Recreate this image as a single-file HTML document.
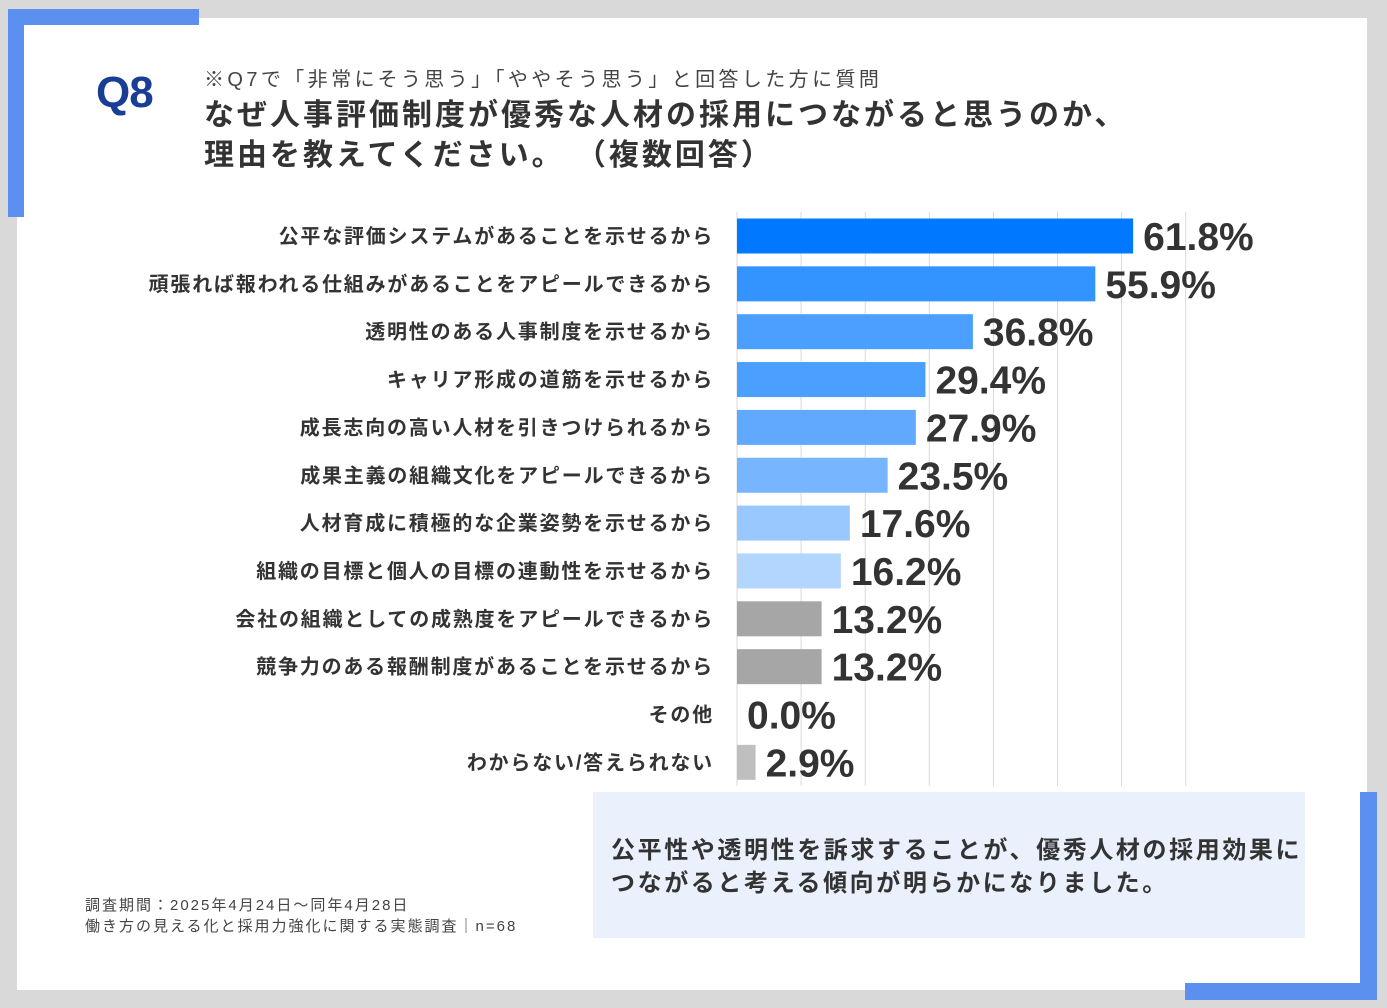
<!DOCTYPE html>
<html><head><meta charset="utf-8"><style>
body{margin:0;width:1387px;height:1008px;background:#d9d9d9;position:relative;overflow:hidden;font-family:"Liberation Sans","Noto Sans CJK JP",sans-serif;color:#333}
.abs{position:absolute}
</style></head><body>
<div class="abs" style="left:17px;top:18px;width:1350px;height:972px;background:#fff"></div>
<div class="abs" style="left:8px;top:9px;width:191px;height:16px;background:#5b8ff0"></div>
<div class="abs" style="left:8px;top:9px;width:16px;height:208px;background:#5b8ff0"></div>
<div class="abs" style="left:1360px;top:792px;width:17px;height:208px;background:#5b8ff0"></div>
<div class="abs" style="left:1185px;top:983px;width:192px;height:17px;background:#5b8ff0"></div>
<div class="abs" style="left:96px;top:68px;font-size:44px;font-weight:bold;color:#1a3e96;letter-spacing:-1px">Q8</div>
<div class="abs" style="left:204px;top:63px;font-size:20px;color:#444;white-space:nowrap;letter-spacing:3.4px">※Q7で「非常にそう思う」「ややそう思う」と回答した方に質問</div>
<div class="abs" style="left:204px;top:96px;font-size:30px;font-weight:bold;line-height:40px;color:#333;white-space:nowrap;letter-spacing:3px">なぜ人事評価制度が優秀な人材の採用につながると思うのか、<br>理由を教えてください。 （複数回答）</div>
<svg class="abs" style="left:0;top:0" width="1387" height="1008" id="chart"></svg>
<div class="abs" style="left:593px;top:792px;width:712px;height:146px;background:#ebf1fc"></div>
<div class="abs" style="left:611px;top:834px;font-size:24px;font-weight:bold;line-height:33px;color:#333;white-space:nowrap;letter-spacing:2.6px">公平性や透明性を訴求することが、優秀人材の採用効果に<br>つながると考える傾向が明らかになりました。</div>
<div class="abs" style="left:85px;top:895px;font-size:15px;line-height:21px;color:#444;white-space:nowrap;letter-spacing:2px">調査期間：2025年4月24日～同年4月28日<br>働き方の見える化と採用力強化に関する実態調査｜n=68</div>
<script>
const categories=["公平な評価システムがあることを示せるから","頑張れば報われる仕組みがあることをアピールできるから","透明性のある人事制度を示せるから","キャリア形成の道筋を示せるから","成長志向の高い人材を引きつけられるから","成果主義の組織文化をアピールできるから","人材育成に積極的な企業姿勢を示せるから","組織の目標と個人の目標の連動性を示せるから","会社の組織としての成熟度をアピールできるから","競争力のある報酬制度があることを示せるから","その他","わからない/答えられない"];
const values=[61.8,55.9,36.8,29.4,27.9,23.5,17.6,16.2,13.2,13.2,0.0,2.9];
const colors=["#0078ff","#3393ff","#4a9fff","#4a9fff","#61a9ff","#77b6ff","#99c8ff","#b3d6ff","#a6a6a6","#a6a6a6","#bfbfbf","#bfbfbf"];
const gridTicks=[0,10,20,30,40,50,60,70];
const svg=document.getElementById('chart');
const NS='http://www.w3.org/2000/svg';
const x=v=>737+v*6.41;
const y=i=>236+i*47.85;
gridTicks.forEach(t=>{
  const l=document.createElementNS(NS,'line');
  
  
  l.setAttribute('x1',x(t));l.setAttribute('x2',x(t));
  l.setAttribute('y1',212);l.setAttribute('y2',786);
  l.setAttribute('stroke','#d9d9d9');l.setAttribute('stroke-width','1');
  svg.appendChild(l);
});
categories.forEach((c,i)=>{
  const r=document.createElementNS(NS,'rect');
  
  
  r.setAttribute('x',x(0));r.setAttribute('y',y(i)-17.5);
  r.setAttribute('width',Math.max(0,x(values[i])-x(0)));r.setAttribute('height',35);
  r.setAttribute('fill',colors[i]);
  svg.appendChild(r);
  const t=document.createElementNS(NS,'text');
  
  
  t.setAttribute('x',714);t.setAttribute('y',y(i)+7);
  t.setAttribute('text-anchor','end');t.setAttribute('font-size','20');t.setAttribute('font-weight','bold');t.setAttribute('fill','#333');
  t.setAttribute('letter-spacing','1.8');
  t.textContent=c;svg.appendChild(t);
  const v=document.createElementNS(NS,'text');
  
  
  v.setAttribute('x',x(values[i])+10);v.setAttribute('y',y(i)+14);
  v.setAttribute('font-size','39');v.setAttribute('font-weight','bold');v.setAttribute('fill','#333');
  v.textContent=values[i].toFixed(1)+'%';svg.appendChild(v);
});
</script>
</body></html>
